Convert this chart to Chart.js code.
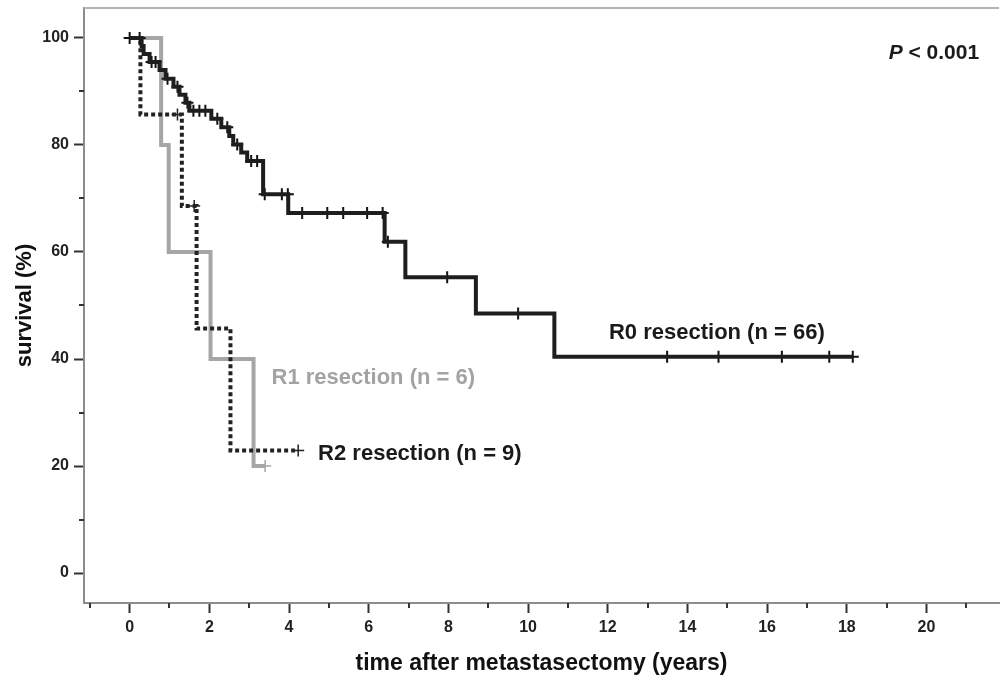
<!DOCTYPE html>
<html>
<head>
<meta charset="utf-8">
<script src="https://cdn.jsdelivr.net/npm/chart.js@4.4.1/dist/chart.umd.min.js"></script>
<style>
  html, body { margin: 0; padding: 0; background: #fff; overflow: hidden; }
  canvas { display: block; }
</style>
</head>
<body>
<canvas id="km" width="1007" height="682"></canvas>
<script>
// Kaplan-Meier steps (time in years, survival in %)
const r0Times = [0, 0.3, 0.35, 0.5, 0.75, 0.9, 1.1, 1.25, 1.4, 1.5, 2.05, 2.3, 2.5, 2.6, 2.8, 2.95, 3.35, 3.98, 6.4, 6.92, 8.69, 10.66, 18.15]
const r0Surv = [100, 98.5, 97, 95.5, 94, 92.4, 90.9, 89.4, 87.9, 86.4, 84.9, 83.3, 81.7, 80.1, 78.6, 77.0, 70.8, 67.3, 61.9, 55.3, 48.5, 40.4, 40.4]
const r0Censored = [0, 0.25, 0.55, 0.65, 0.95, 1.2, 1.45, 1.6, 1.75, 1.9, 2.2, 2.45, 2.7, 3.05, 3.2, 3.39, 3.82, 3.97, 4.33, 4.96, 5.36, 5.96, 6.35, 6.48, 7.97, 9.75, 13.49, 14.78, 16.37, 17.56, 18.15]

const r1Times = [0, 0.79, 0.98, 2.03, 3.11, 3.4]
const r1Surv = [100, 80, 60, 40, 20, 20]
const r1Censored = [3.4]

const r2Times = [0, 0.27, 1.31, 1.68, 2.53, 4.23]
const r2Surv = [100, 85.7, 68.6, 45.7, 22.9, 22.9]
const r2Censored = [1.2, 1.62, 4.23]

const xTicks = [0, 2, 4, 6, 8, 10, 12, 14, 16, 18, 20]
const yTicks = [0, 20, 40, 60, 80, 100]
const xMinor = [-1, 1, 3, 5, 7, 9, 11, 13, 15, 17, 19, 21]
const yMinor = [10, 30, 50, 70, 90]

const FONT = '"Liberation Sans", Arial, sans-serif'

function pts(times, surv) {
  return times.map((t, i) => ({ x: t, y: surv[i] }))
}
function survAt(times, surv, t) {
  let s = surv[0]
  for (let i = 0; i < times.length; i++) if (times[i] <= t) s = surv[i]
  return s
}
function marks(cens, times, surv) {
  return cens.map(t => ({ x: t, y: survAt(times, surv, t) }))
}

const extras = {
  id: 'extras',
  afterDraw(chart) {
    const { ctx, chartArea: a, scales: { x, y } } = chart
    ctx.save()
    // top frame line
    ctx.strokeStyle = '#b4b4b4'
    ctx.lineWidth = 2
    ctx.beginPath()
    ctx.moveTo(a.left, a.top)
    ctx.lineTo(a.right, a.top)
    ctx.stroke()
    // minor ticks
    ctx.strokeStyle = '#333'
    ctx.lineWidth = 2
    ctx.beginPath()
    xMinor.forEach(v => {
      const px = Math.round(x.getPixelForValue(v))
      ctx.moveTo(px, a.bottom)
      ctx.lineTo(px, a.bottom + 5)
    })
    yMinor.forEach(v => {
      const py = Math.round(y.getPixelForValue(v))
      ctx.moveTo(a.left, py)
      ctx.lineTo(a.left - 5, py)
    })
    ctx.stroke()
    // curve labels
    ctx.textBaseline = 'middle'
    ctx.textAlign = 'left'
    ctx.font = 'bold 22px ' + FONT
    ctx.fillStyle = '#1a1a1a'
    ctx.fillText('R0 resection (n = 66)', x.getPixelForValue(12.03), y.getPixelForValue(44.9))
    ctx.fillText('R2 resection (n = 9)', x.getPixelForValue(4.73), y.getPixelForValue(22.3))
    ctx.fillStyle = '#a3a3a3'
    ctx.fillText('R1 resection (n = 6)', x.getPixelForValue(3.56), y.getPixelForValue(36.5))
    // p value
    ctx.fillStyle = '#1a1a1a'
    let px = x.getPixelForValue(19.05)
    const py = y.getPixelForValue(97.1)
    ctx.font = 'italic bold 21px ' + FONT
    ctx.fillText('P', px, py)
    px += ctx.measureText('P').width
    ctx.font = 'bold 21px ' + FONT
    ctx.fillText(' < 0.001', px, py)
    ctx.restore()
  }
}

const ctx = document.getElementById('km')

new Chart(ctx, {
  type: 'line',
  data: {
    datasets: [
      { label: 'R0', data: pts(r0Times, r0Surv), stepped: true, borderColor: '#1e1e1e', borderWidth: 4, pointRadius: 0, fill: false },
      { label: 'R0 cens', type: 'scatter', data: marks(r0Censored, r0Times, r0Surv), pointStyle: 'cross', pointRadius: 6, borderColor: '#111', borderWidth: 2 },
      { label: 'R2', data: pts(r2Times, r2Surv), stepped: true, borderColor: '#222', borderWidth: 4, borderDash: [4, 3], pointRadius: 0, fill: false },
      { label: 'R2 cens', type: 'scatter', data: marks(r2Censored, r2Times, r2Surv), pointStyle: 'cross', pointRadius: 6, borderColor: '#222', borderWidth: 1.5 },
      { label: 'R1', data: pts(r1Times, r1Surv), stepped: true, borderColor: '#a6a6a6', borderWidth: 4, pointRadius: 0, fill: false },
      { label: 'R1 cens', type: 'scatter', data: marks(r1Censored, r1Times, r1Surv), pointStyle: 'cross', pointRadius: 6, borderColor: '#a6a6a6', borderWidth: 1.5 }
    ]
  },
  options: {
    responsive: false,
    animation: false,
    layout: { padding: { top: 6, right: 0, left: 0, bottom: 0 } },
    plugins: { legend: { display: false }, tooltip: { enabled: false } },
    scales: {
      x: {
        type: 'linear',
        min: -1.146,
        max: 21.82,
        afterBuildTicks: s => { s.ticks = xTicks.map(v => ({ value: v })) },
        afterFit: s => { s.height = 79; s.paddingLeft = 0; s.paddingRight = 0 },
        grid: { drawOnChartArea: false, drawTicks: true, tickLength: 10, tickWidth: 2, tickColor: '#333' },
        border: { display: true, color: '#8c8c8c', width: 2 },
        ticks: { color: '#222', font: { family: FONT, size: 16, weight: 'bold' }, padding: 5, maxRotation: 0 },
        title: { display: true, text: 'time after metastasectomy (years)', color: '#111', font: { family: FONT, size: 23, weight: 'bold' }, padding: { top: 0, bottom: 5 } }
      },
      y: {
        min: -5.6,
        max: 105.6,
        afterBuildTicks: s => { s.ticks = yTicks.map(v => ({ value: v })) },
        afterFit: s => { s.width = 84; s.paddingTop = 0; s.paddingBottom = 0 },
        grid: { drawOnChartArea: false, drawTicks: true, tickLength: 10, tickWidth: 2, tickColor: '#333' },
        border: { display: true, color: '#8c8c8c', width: 2 },
        ticks: { color: '#222', font: { family: FONT, size: 16, weight: 'bold' }, padding: 5 },
        title: { display: true, text: 'survival (%)', color: '#111', font: { family: FONT, size: 22, weight: 'bold' }, padding: { top: 12, bottom: 0 } }
      }
    }
  },
  plugins: [extras]
})
</script>
</body>
</html>
